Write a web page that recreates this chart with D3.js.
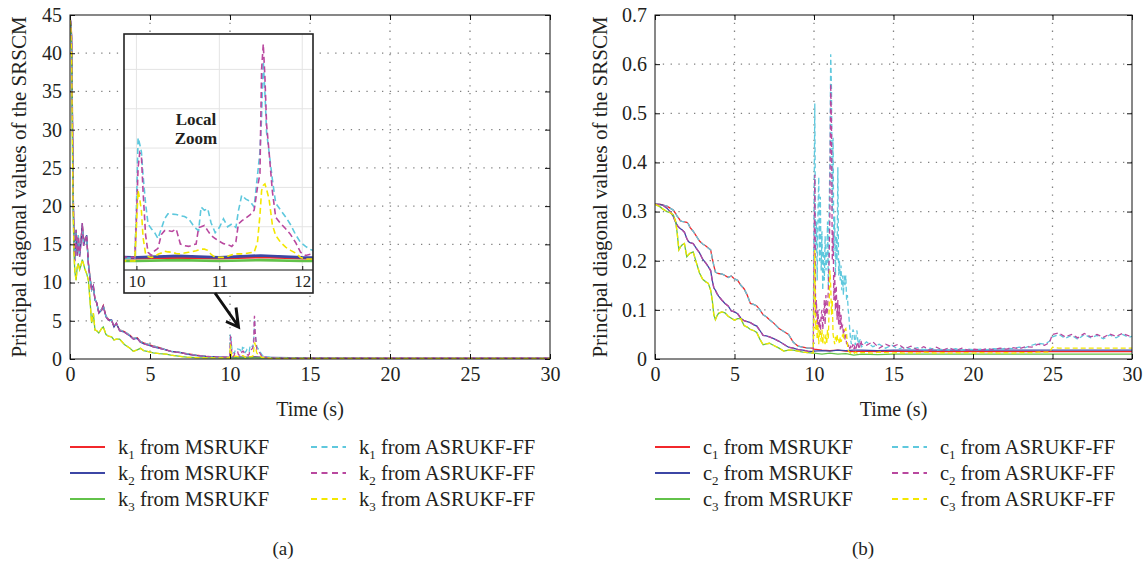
<!DOCTYPE html>
<html>
<head>
<meta charset="utf-8">
<script src="https://cdn.jsdelivr.net/npm/d3@7"></script>
<style>
  body { margin: 0; background: #fff; }
  svg { display: block; }
</style>
</head>
<body>
<svg id="chart" width="1146" height="563"></svg>
<script>
// ---------- data: panel (a), stiffness k ----------
const xTicks = [0, 5, 10, 15, 20, 25, 30];
const kTicks = [0, 5, 10, 15, 20, 25, 30, 35, 40, 45];
const cTicks = [0, 0.1, 0.2, 0.3, 0.4, 0.5, 0.6, 0.7];
const insetTicks = [10, 11, 12];
const insetGrid = [1, 2, 3, 4, 5];

// before the fault (t < 10 s) both filters give the same curves
const tPreK = [0, 0.05, 0.1, 0.15, 0.2, 0.25, 0.3, 0.38, 0.45, 0.52, 0.6, 0.68, 0.77, 0.85, 0.94, 1.04, 1.15, 1.25, 1.35, 1.46,
  1.56, 1.67, 1.8, 1.98, 2.08, 2.25, 2.4, 2.6, 2.75, 2.9, 3.1, 3.4, 3.75, 3.96, 4.2, 4.4, 4.6, 4.9, 5.2, 5.6,
  6.0, 6.3, 6.66, 7.0, 7.3, 7.9, 8.5, 9.2, 9.95];
const k1Pre = [44.6, 44.2, 42.5, 33, 22, 16.5, 13.5, 16.5, 14, 16.2, 13.6, 15.5, 17.5, 15.2, 15.8, 16.0, 12.6, 10.8, 9.0, 9.4,
  7.9, 7.3, 6.1, 6.5, 7.0, 5.6, 5.2, 5.0, 4.3, 4.6, 3.8, 3.6, 3.1, 2.7, 2.8, 2.3, 2.1, 1.9, 1.7, 1.5,
  1.2, 1.0, 0.95, 0.8, 0.7, 0.5, 0.35, 0.25, 0.2];
const k2Pre = [44.5, 44.0, 42.0, 32, 21, 15.5, 12.8, 16.9, 13.5, 16.0, 13.4, 15.0, 17.8, 14.8, 15.6, 16.2, 12.4, 10.5, 9.2, 9.6,
  7.7, 7.4, 6.0, 6.4, 6.9, 5.5, 5.1, 5.1, 4.2, 4.7, 3.7, 3.5, 3.0, 2.6, 2.7, 2.2, 2.0, 1.8, 1.6, 1.4,
  1.2, 1.0, 0.9, 0.8, 0.65, 0.45, 0.35, 0.27, 0.22];
const k3Pre = [44.4, 43.5, 40, 28, 19, 14, 11.5, 10.3, 12, 12.5, 11.7, 12.2, 13, 12.4, 11.7, 11.2, 10.3, 7.7, 4.7, 6.0,
  3.8, 3.7, 3.4, 4.0, 4.2, 3.2, 3.0, 2.9, 2.5, 2.6, 2.6, 1.9, 1.4, 1.0, 1.2, 1.4, 1.1, 0.96, 0.8, 0.7,
  0.65, 0.5, 0.4, 0.3, 0.25, 0.18, 0.15, 0.14, 0.13];

// MSRUKF after the fault
const tMsK = [10, 10.5, 11, 11.5, 12, 12.5, 15, 20, 25, 30];
const k1Ms = [0.2, 0.22, 0.2, 0.23, 0.2, 0.18, 0.12, 0.1, 0.1, 0.1];
const k2Ms = [0.22, 0.26, 0.22, 0.27, 0.22, 0.2, 0.13, 0.1, 0.1, 0.1];
const k3Ms = [0.13, 0.15, 0.13, 0.15, 0.13, 0.12, 0.08, 0.06, 0.06, 0.06];

// ASRUKF-FF after the fault
const tAsK = [9.98, 10.0, 10.02, 10.04, 10.06, 10.08, 10.11, 10.14, 10.18, 10.22, 10.26, 10.3, 10.34, 10.38, 10.43, 10.48,
  10.53, 10.58, 10.63, 10.68, 10.72, 10.75, 10.78, 10.82, 10.86, 10.9, 10.95, 11.0, 11.05, 11.1, 11.15, 11.2,
  11.23, 11.27, 11.32, 11.37, 11.42, 11.46, 11.49, 11.51, 11.53, 11.55, 11.57, 11.6, 11.64, 11.68, 11.74, 11.8,
  11.86, 11.92, 11.98, 12.04, 12.1, 12.16, 12.3, 12.5, 13, 14, 16, 18, 20, 22, 24, 26, 28, 30];
const k1As = [0.2, 1.5, 3.26, 3.1, 2.9, 2.3, 1.6, 1.07, 0.95, 0.85, 0.7, 0.95, 1.2, 1.33, 1.32, 1.31,
  1.28, 1.26, 1.2, 1.05, 0.95, 0.9, 1.5, 1.42, 1.46, 1.1, 0.85, 0.98, 1.2, 1.0, 1.07, 0.98,
  1.4, 1.8, 1.7, 1.65, 1.5, 2.3, 2.9, 3.8, 5.2, 4.4, 3.4, 2.9, 2.2, 1.6, 1.42, 1.25,
  1.05, 0.8, 0.6, 0.5, 0.42, 0.38, 0.3, 0.2, 0.12, 0.1, 0.1, 0.1, 0.1, 0.1, 0.1, 0.1, 0.1, 0.1];
const k2As = [0.22, 1.2, 2.5, 2.88, 2.8, 1.9, 0.8, 0.35, 0.27, 0.39, 0.45, 0.8, 0.9, 0.9, 0.88, 0.94,
  0.56, 0.52, 0.5, 0.54, 0.56, 0.98, 1.0, 1.03, 0.9, 0.78, 0.7, 0.63, 0.57, 0.55, 0.5, 0.62,
  1.07, 1.15, 1.22, 1.3, 1.42, 2.0, 2.35, 5.0, 5.64, 4.8, 3.6, 2.9, 1.9, 1.24, 1.08, 0.95,
  0.8, 0.6, 0.35, 0.27, 0.3, 0.28, 0.2, 0.15, 0.1, 0.1, 0.1, 0.1, 0.1, 0.1, 0.1, 0.1, 0.1, 0.1];
const k3As = [0.13, 1.0, 1.92, 1.7, 1.41, 0.73, 0.31, 0.24, 0.22, 0.24, 0.3, 0.33, 0.38, 0.36, 0.35, 0.32,
  0.31, 0.33, 0.35, 0.37, 0.39, 0.41, 0.43, 0.43, 0.4, 0.3, 0.22, 0.22, 0.22, 0.25, 0.29, 0.31,
  0.31, 0.31, 0.32, 0.34, 0.35, 0.6, 1.3, 1.92, 2.05, 2.09, 1.95, 1.7, 1.05, 0.78, 0.6, 0.48,
  0.4, 0.33, 0.22, 0.18, 0.18, 0.18, 0.15, 0.1, 0.08, 0.07, 0.07, 0.07, 0.07, 0.07, 0.07, 0.07, 0.07, 0.07];

// ---------- data: panel (b), damping c ----------
const tPreC = [0, 0.3, 0.5, 0.75, 0.95, 1.15, 1.3, 1.4, 1.5, 1.6, 1.7, 1.85, 2.0, 2.1, 2.2, 2.4, 2.6, 2.8, 3.0, 3.2,
  3.35, 3.5, 3.6, 3.7, 3.8, 3.9, 4.0, 4.2, 4.4, 4.6, 4.8, 5.0, 5.2, 5.4, 5.6, 5.8, 6.0, 6.2, 6.4, 6.6,
  6.8, 7.0, 7.2, 7.5, 7.8, 8.1, 8.4, 8.7, 9.0, 9.3, 9.6, 9.95];
const c1Pre = [0.315, 0.315, 0.313, 0.311, 0.307, 0.303, 0.296, 0.29, 0.286, 0.281, 0.28, 0.279, 0.278, 0.275, 0.268, 0.26, 0.25, 0.24, 0.234, 0.23,
  0.226, 0.222, 0.205, 0.19, 0.177, 0.175, 0.174, 0.173, 0.17, 0.166, 0.169, 0.163, 0.16, 0.15, 0.143, 0.13, 0.113, 0.111, 0.108, 0.1,
  0.09, 0.086, 0.08, 0.072, 0.062, 0.056, 0.05, 0.034, 0.026, 0.024, 0.022, 0.022];
const c2Pre = [0.315, 0.314, 0.313, 0.307, 0.3, 0.29, 0.278, 0.272, 0.268, 0.265, 0.263, 0.258, 0.245, 0.239, 0.237, 0.235, 0.225, 0.216, 0.203, 0.195,
  0.188, 0.18, 0.16, 0.145, 0.14, 0.133, 0.128, 0.12, 0.113, 0.108, 0.098, 0.096, 0.092, 0.083, 0.078, 0.076, 0.074, 0.07, 0.067, 0.058,
  0.048, 0.047, 0.045, 0.041, 0.036, 0.03, 0.024, 0.022, 0.019, 0.018, 0.016, 0.015];
const c3Pre = [0.315, 0.31, 0.305, 0.3, 0.298, 0.293, 0.28, 0.255, 0.222, 0.228, 0.232, 0.235, 0.208, 0.212, 0.215, 0.218, 0.196, 0.175, 0.162, 0.157,
  0.154, 0.14, 0.12, 0.09, 0.08, 0.088, 0.093, 0.096, 0.094, 0.087, 0.083, 0.079, 0.082, 0.082, 0.068, 0.065, 0.06, 0.058, 0.054, 0.04,
  0.029, 0.031, 0.032, 0.027, 0.022, 0.016, 0.018, 0.018, 0.016, 0.014, 0.013, 0.012];

const tMsC = [10, 10.5, 11, 11.5, 12, 12.5, 13, 14, 15, 16, 17, 18, 19, 20, 22, 24, 26, 28, 30];
const c1Ms = [0.02, 0.018, 0.017, 0.018, 0.016, 0.015, 0.016, 0.015, 0.016, 0.015, 0.015, 0.015, 0.015, 0.015, 0.015, 0.015, 0.015, 0.015, 0.015];
const c2Ms = [0.016, 0.017, 0.016, 0.018, 0.017, 0.018, 0.018, 0.017, 0.018, 0.018, 0.018, 0.018, 0.018, 0.018, 0.018, 0.018, 0.018, 0.018, 0.018];
const c3Ms = [0.012, 0.01, 0.012, 0.01, 0.011, 0.008, 0.01, 0.009, 0.01, 0.01, 0.01, 0.01, 0.01, 0.01, 0.01, 0.01, 0.01, 0.01, 0.01];

const tSpikeC = [10, 10.05, 10.1, 10.15, 10.2, 10.25, 10.3, 10.35, 10.4, 10.45, 10.5, 10.55, 10.6, 10.65, 10.7, 10.75, 10.8, 10.85, 10.9, 10.95,
  11, 11.05, 11.1, 11.15, 11.2, 11.25, 11.3, 11.35, 11.4, 11.45, 11.5, 11.55, 11.6, 11.65, 11.7, 11.75, 11.8, 11.85, 11.9, 11.95,
  12, 12.05, 12.1, 12.15, 12.2, 12.25, 12.3, 12.35, 12.4, 12.45, 12.5, 12.55, 12.6, 12.65, 12.7, 12.75, 12.8, 12.85, 12.9, 12.95, 13];
const c1Spike = [0.3, 0.52, 0.22, 0.28, 0.16, 0.3, 0.37, 0.2, 0.33, 0.18, 0.26, 0.14, 0.22, 0.16, 0.25, 0.18, 0.2, 0.28, 0.15, 0.3,
  0.4, 0.62, 0.55, 0.3, 0.45, 0.22, 0.29, 0.17, 0.25, 0.2, 0.39, 0.17, 0.2, 0.16, 0.19, 0.14, 0.17, 0.13, 0.17, 0.15,
  0.17, 0.12, 0.13, 0.1, 0.085, 0.06, 0.04, 0.03, 0.045, 0.06, 0.055, 0.04, 0.028, 0.05, 0.058, 0.04, 0.03, 0.035, 0.04, 0.03, 0.025];
const c2Spike = [0.2, 0.375, 0.09, 0.12, 0.07, 0.1, 0.065, 0.08, 0.05, 0.09, 0.1, 0.06, 0.08, 0.12, 0.07, 0.13, 0.09, 0.1, 0.14, 0.2,
  0.3, 0.56, 0.48, 0.2, 0.26, 0.12, 0.18, 0.1, 0.15, 0.08, 0.12, 0.07, 0.11, 0.06, 0.09, 0.06, 0.07, 0.05, 0.06, 0.04,
  0.05, 0.03, 0.035, 0.025, 0.03, 0.022, 0.025, 0.02, 0.025, 0.03, 0.02, 0.025, 0.018, 0.022, 0.03, 0.035, 0.025, 0.02, 0.03, 0.038, 0.03];
const c3Spike = [0.1, 0.222, 0.06, 0.08, 0.04, 0.07, 0.03, 0.06, 0.05, 0.035, 0.06, 0.03, 0.05, 0.04, 0.03, 0.05, 0.03, 0.06, 0.04, 0.1,
  0.18, 0.15, 0.09, 0.12, 0.05, 0.04, 0.03, 0.045, 0.035, 0.05, 0.035, 0.04, 0.03, 0.045, 0.035, 0.04, 0.05, 0.04, 0.055, 0.06,
  0.062, 0.05, 0.03, 0.018, 0.015, 0.013, 0.012, 0.014, 0.013, 0.012, 0.013, 0.012, 0.014, 0.013, 0.012, 0.013, 0.012, 0.013, 0.012, 0.013, 0.013];

const tTailC = [13.3, 13.7, 14.1, 14.5, 14.9, 15.3, 15.7, 16.1, 16.5, 16.9, 17.3, 17.7, 18.1, 18.5, 18.9, 19.3, 19.7, 20.1, 20.5, 20.9,
  21.3, 21.7, 22.1, 22.5, 22.9, 23.3, 23.7, 24.1, 24.5, 24.8, 25.0, 25.4, 25.8, 26.2, 26.6, 27.0, 27.4, 27.8, 28.2, 28.6,
  29.0, 29.4, 29.8, 30];
const c1Tail = [0.035, 0.025, 0.03, 0.022, 0.028, 0.02, 0.025, 0.02, 0.023, 0.019, 0.022, 0.018, 0.02, 0.018, 0.021, 0.018, 0.02, 0.019, 0.02, 0.019,
  0.021, 0.02, 0.022, 0.021, 0.024, 0.023, 0.028, 0.032, 0.03, 0.036, 0.045, 0.05, 0.042, 0.048, 0.04, 0.05, 0.043, 0.048, 0.041, 0.049,
  0.043, 0.05, 0.044, 0.046];
const c2Tail = [0.028, 0.035, 0.022, 0.03, 0.025, 0.03, 0.021, 0.026, 0.019, 0.025, 0.018, 0.024, 0.018, 0.023, 0.017, 0.022, 0.018, 0.02, 0.018, 0.021,
  0.019, 0.022, 0.02, 0.023, 0.021, 0.025, 0.024, 0.03, 0.028, 0.033, 0.05, 0.053, 0.045, 0.05, 0.043, 0.052, 0.045, 0.05, 0.044, 0.051,
  0.046, 0.052, 0.047, 0.05];
const c3Tail = [0.013, 0.012, 0.014, 0.013, 0.012, 0.013, 0.012, 0.013, 0.012, 0.014, 0.013, 0.012, 0.013, 0.012, 0.013, 0.012, 0.013, 0.012, 0.013, 0.012,
  0.013, 0.012, 0.013, 0.012, 0.013, 0.013, 0.013, 0.014, 0.014, 0.014, 0.024, 0.022, 0.022, 0.022, 0.022, 0.022, 0.022, 0.022, 0.022, 0.022,
  0.022, 0.022, 0.022, 0.022];

const subIdx = ["1", "2", "3"];
const sources = ["MSRUKF", "ASRUKF-FF"];

// ---------- styling ----------
const FONT = '"Liberation Serif", "Times New Roman", serif';
const TXT = "#231f20";
const red = "#f2272b", blue = "#3c46a5", green = "#62c24a";
const cyan = "#5ec8dd", magenta = "#b9489f", yellow = "#f3e700";
const msColors = [red, blue, green];
const asColors = [cyan, magenta, yellow];

const svg = d3.select("#chart").style("font-family", FONT);
svg.append("rect").attr("width", 1146).attr("height", 563).attr("fill", "#fff");

// glue time/value arrays into point lists
const joinPts = (tArrs, vArrs) => {
  const pts = [];
  tArrs.forEach((ts, i) => ts.forEach((t, j) => pts.push({ t: t, v: vArrs[i][j] })));
  return pts;
};

const kLines = [
  { color: red, dash: false, pts: joinPts([tPreK, tMsK], [k1Pre, k1Ms]) },
  { color: blue, dash: false, pts: joinPts([tPreK, tMsK], [k2Pre, k2Ms]) },
  { color: green, dash: false, pts: joinPts([tPreK, tMsK], [k3Pre, k3Ms]) },
  { color: cyan, dash: true, pts: joinPts([tPreK, tAsK], [k1Pre, k1As]) },
  { color: magenta, dash: true, pts: joinPts([tPreK, tAsK], [k2Pre, k2As]) },
  { color: yellow, dash: true, pts: joinPts([tPreK, tAsK], [k3Pre, k3As]) }
];
const cLines = [
  { color: red, dash: false, pts: joinPts([tPreC, tMsC], [c1Pre, c1Ms]) },
  { color: blue, dash: false, pts: joinPts([tPreC, tMsC], [c2Pre, c2Ms]) },
  { color: green, dash: false, pts: joinPts([tPreC, tMsC], [c3Pre, c3Ms]) },
  { color: cyan, dash: true, pts: joinPts([tPreC, tSpikeC, tTailC], [c1Pre, c1Spike, c1Tail]) },
  { color: magenta, dash: true, pts: joinPts([tPreC, tSpikeC, tTailC], [c2Pre, c2Spike, c2Tail]) },
  { color: yellow, dash: true, pts: joinPts([tPreC, tSpikeC, tTailC], [c3Pre, c3Spike, c3Tail]) }
];

const styleAxis = g => {
  g.select(".domain").remove();
  g.selectAll(".tick line").attr("stroke", "#111");
  g.selectAll(".tick text").attr("fill", TXT).style("font-size", "20px").style("font-family", FONT);
};

function drawPanel(o) {
  const x = d3.scaleLinear().domain([0, 30]).range([o.left, o.right]);
  const y = d3.scaleLinear().domain([0, o.yTicks[o.yTicks.length - 1]]).range([o.bottom, o.top]);
  const g = svg.append("g");

  // dotted grid
  g.append("g").selectAll("line").data(xTicks.slice(1, -1)).join("line")
    .attr("x1", d => x(d)).attr("x2", d => x(d)).attr("y1", o.top).attr("y2", o.bottom)
    .attr("stroke", "#808080").attr("stroke-width", 1.3).attr("stroke-dasharray", "1.3,6.5");
  g.append("g").selectAll("line").data(o.yTicks.slice(1, -1)).join("line")
    .attr("x1", o.left).attr("x2", o.right).attr("y1", d => y(d)).attr("y2", d => y(d))
    .attr("stroke", "#808080").attr("stroke-width", 1.3).attr("stroke-dasharray", "1.3,6.5");

  svg.append("clipPath").attr("id", "clip-" + o.id).append("rect")
    .attr("x", o.left).attr("y", o.top).attr("width", o.right - o.left).attr("height", o.bottom - o.top);

  const line = d3.line().x(d => x(d.t)).y(d => y(d.v));
  const lg = g.append("g").attr("clip-path", `url(#clip-${o.id})`);
  o.lines.forEach(s => {
    lg.append("path").datum(s.pts)
      .attr("fill", "none")
      .attr("stroke", s.color)
      .attr("stroke-width", 1.3)
      .attr("stroke-dasharray", s.dash ? "5,3" : null)
      .attr("d", line);
  });

  // axes with inward ticks on all four sides
  g.append("g").attr("transform", `translate(0,${o.bottom})`)
    .call(d3.axisBottom(x).tickValues(xTicks).tickSize(-5).tickPadding(8).tickFormat(d3.format("d")))
    .call(styleAxis);
  g.append("g").attr("transform", `translate(0,${o.top})`)
    .call(d3.axisTop(x).tickValues(xTicks).tickSize(-5).tickFormat(""))
    .call(styleAxis);
  g.append("g").attr("transform", `translate(${o.left},0)`)
    .call(d3.axisLeft(y).tickValues(o.yTicks).tickSize(-5).tickPadding(8).tickFormat(o.fmt))
    .call(styleAxis);
  g.append("g").attr("transform", `translate(${o.right},0)`)
    .call(d3.axisRight(y).tickValues(o.yTicks).tickSize(-5).tickFormat(""))
    .call(styleAxis);

  g.append("rect")
    .attr("x", o.left).attr("y", o.top).attr("width", o.right - o.left).attr("height", o.bottom - o.top)
    .attr("fill", "none").attr("stroke", "#111").attr("stroke-width", 1);

  // axis titles
  g.append("text")
    .attr("transform", `translate(${o.yLabelX},${(o.top + o.bottom) / 2}) rotate(-90)`)
    .attr("text-anchor", "middle").attr("dy", "0.35em")
    .attr("fill", TXT).style("font-size", "21px")
    .text("Principal diagonal values of the SRSCM");
  g.append("text")
    .attr("x", (o.left + o.right) / 2).attr("y", 409).attr("dy", "0.35em")
    .attr("text-anchor", "middle").attr("fill", TXT).style("font-size", "20px")
    .text("Time (s)");

  // legend, two columns of three rows
  const rowsY = [447, 473, 499];
  sources.forEach((src, col) => {
    const lx = o.legendX[col];
    subIdx.forEach((idx, i) => {
      const cy = rowsY[i];
      g.append("line")
        .attr("x1", lx).attr("x2", lx + 35).attr("y1", cy).attr("y2", cy)
        .attr("stroke", col === 0 ? msColors[i] : asColors[i])
        .attr("stroke-width", 1.8)
        .attr("stroke-dasharray", col === 0 ? null : "6,4.5");
      const t = g.append("text").attr("x", lx + 48).attr("y", cy).attr("dy", "0.35em")
        .attr("fill", TXT).style("font-size", "20.5px");
      t.append("tspan").text(o.sym);
      t.append("tspan").attr("dy", "5").style("font-size", "13px").text(idx);
      t.append("tspan").attr("dy", "-5").text(" from " + src);
    });
  });

  g.append("text")
    .attr("x", o.captionX).attr("y", 548).attr("dy", "0.35em")
    .attr("text-anchor", "middle").attr("fill", TXT).style("font-size", "19px")
    .text(o.caption);

  return { x, y };
}

drawPanel({
  id: "a", left: 70, right: 550, top: 15, bottom: 359,
  yTicks: kTicks, fmt: d3.format("d"), lines: kLines,
  yLabelX: 19, legendX: [70, 311], sym: "k", caption: "(a)", captionX: 283
});
drawPanel({
  id: "b", left: 655, right: 1132, top: 15, bottom: 359,
  yTicks: cTicks, fmt: d => d === 0 ? "0" : d3.format(".1f")(d), lines: cLines,
  yLabelX: 600, legendX: [655, 892], sym: "c", caption: "(b)", captionX: 863
});

// ---------- local zoom inset on panel (a) ----------
const inset = { left: 124, right: 313, top: 34, axisY: 270, bottom: 293 };
const ix = d3.scaleLinear().domain([9.85, 12.13]).range([inset.left, inset.right]);
const iy = d3.scaleLinear().domain([-0.1, 5.9]).range([inset.axisY, inset.top]);
const ig = svg.append("g");

ig.append("rect")
  .attr("x", inset.left).attr("y", inset.top)
  .attr("width", inset.right - inset.left).attr("height", inset.bottom - inset.top)
  .attr("fill", "#fff");

ig.append("g").selectAll("line").data(insetGrid).join("line")
  .attr("x1", inset.left).attr("x2", inset.right).attr("y1", d => iy(d)).attr("y2", d => iy(d))
  .attr("stroke", "#e4e4e4").attr("stroke-width", 1);
ig.append("g").selectAll("line").data(insetTicks).join("line")
  .attr("x1", d => ix(d)).attr("x2", d => ix(d)).attr("y1", inset.top).attr("y2", inset.axisY)
  .attr("stroke", "#e4e4e4").attr("stroke-width", 1);

svg.append("clipPath").attr("id", "clip-inset").append("rect")
  .attr("x", inset.left).attr("y", inset.top)
  .attr("width", inset.right - inset.left).attr("height", inset.axisY - inset.top);

const iline = d3.line().x(d => ix(d.t)).y(d => iy(d.v));
const ilg = ig.append("g").attr("clip-path", "url(#clip-inset)");
kLines.forEach(s => {
  ilg.append("path").datum(s.pts)
    .attr("fill", "none")
    .attr("stroke", s.color)
    .attr("stroke-width", s.dash ? 1.6 : 2.6)
    .attr("stroke-dasharray", s.dash ? "6,3.5" : null)
    .attr("d", iline);
});

ig.append("g").attr("transform", `translate(0,${inset.axisY})`)
  .call(d3.axisBottom(ix).tickValues(insetTicks).tickSize(-4).tickPadding(5).tickFormat(d3.format("d")))
  .call(g => {
    g.select(".domain").remove();
    g.selectAll(".tick line").attr("stroke", "#111");
    g.selectAll(".tick text").attr("fill", TXT).style("font-size", "17px").style("font-family", FONT);
  });
ig.append("line")
  .attr("x1", inset.left).attr("x2", inset.right).attr("y1", inset.axisY).attr("y2", inset.axisY)
  .attr("stroke", "#111").attr("stroke-width", 1.2);
ig.append("rect")
  .attr("x", inset.left).attr("y", inset.top)
  .attr("width", inset.right - inset.left).attr("height", inset.bottom - inset.top)
  .attr("fill", "none").attr("stroke", "#222").attr("stroke-width", 1.6);

ig.append("text").attr("x", 196).attr("y", 125).attr("text-anchor", "middle")
  .attr("fill", TXT).style("font-size", "17px").style("font-weight", "bold").text("Local");
ig.append("text").attr("x", 196).attr("y", 144).attr("text-anchor", "middle")
  .attr("fill", TXT).style("font-size", "17px").style("font-weight", "bold").text("Zoom");

// arrow pointing from the inset to the burst near t = 10-12 s
ig.append("path")
  .attr("d", "M215,293 L238.5,326.5 M236,307.5 L238.5,327 L226,321.5")
  .attr("fill", "none").attr("stroke", "#111").attr("stroke-width", 3)
  .attr("stroke-linejoin", "miter").attr("stroke-linecap", "butt");
</script>
</body>
</html>
